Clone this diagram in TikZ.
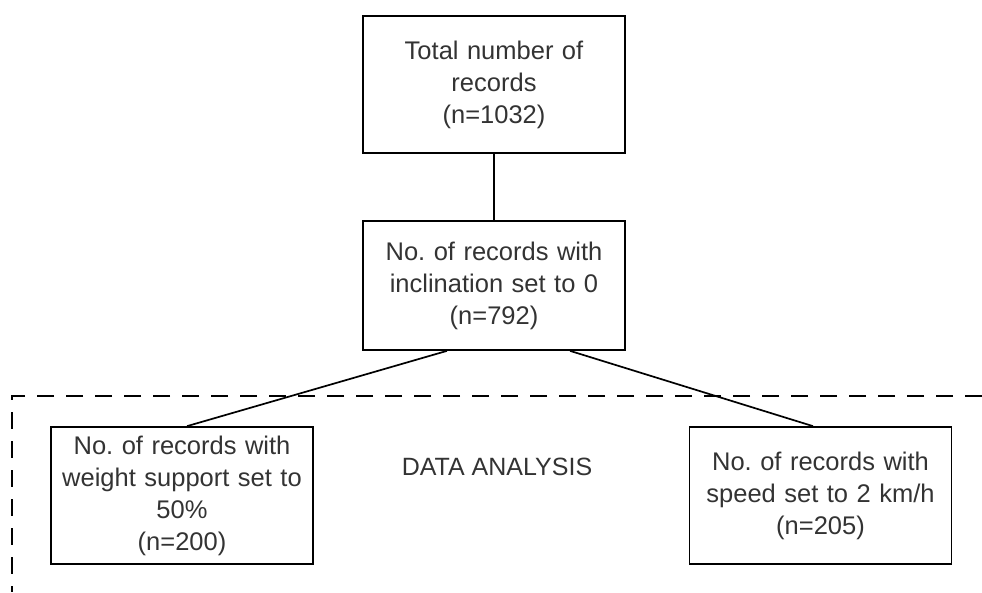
\documentclass[tikz,border=0pt]{standalone}
\usepackage{fontspec}
\setmainfont{Liberation Sans}
\frenchspacing
\definecolor{txtgray}{HTML}{333333}
\tikzset{
  recbox/.style={draw=black, line width=1.7pt, minimum width=262pt, text width=255pt,
    align=center, text=txtgray, inner sep=0pt,
    font=\fontsize{25.5}{32}\selectfont},
  link/.style={line width=1.7pt},
  region/.style={line width=1.7pt, dash pattern=on 17pt off 12pt}
}
\begin{document}
\begin{tikzpicture}[x=1pt,y=-1pt]
	\useasboundingbox (0,0) rectangle (982,592);
	% boxes
	\node[recbox, minimum height=137pt] (total) at (494,84.5) {Total number of\\records\\(n=1032)};
	\node[recbox, minimum height=129pt] (incl) at (494,285.5) {No. of records with\\inclination set to 0\\(n=792)};
	\node[recbox, minimum height=137pt] (weight) at (182,495.5) {No. of records with\\weight support set to\\50\%\\(n=200)};
	\node[recbox, minimum height=137pt] (speed) at (820.5,495.5) {No. of records with\\speed set to 2 km/h\\(n=205)};
	% analysis region
	\draw[region] (982,396) -- (12,396) -- (12,592);
	\node[text=txtgray, font=\fontsize{25}{32}\selectfont] (analysis) at (497,467) {DATA ANALYSIS};
	% links
	\draw[link] (total) -- (incl);
	\draw[link] ([xshift=-47pt]incl.south) -- ([xshift=5pt]weight.north);
	\draw[link] ([xshift=76pt]incl.south) -- ([xshift=-7.5pt]speed.north);
\end{tikzpicture}
\end{document}
